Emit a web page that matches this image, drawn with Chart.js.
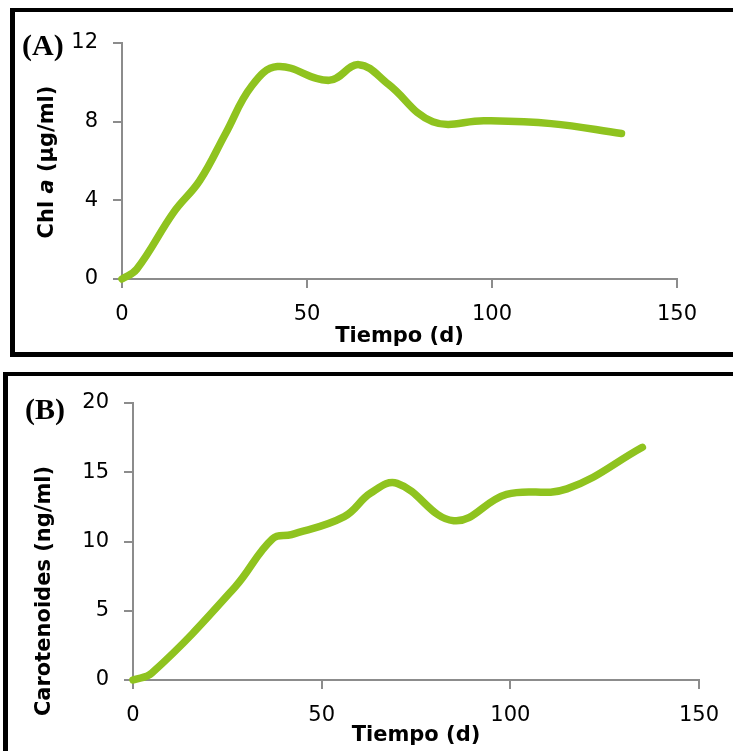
<!DOCTYPE html>
<html lang="es">
<head>
<meta charset="utf-8">
<script src="https://cdn.jsdelivr.net/npm/chart.js"></script>
<style>
  html, body { margin: 0; padding: 0; background: #fff; }
  body { width: 733px; height: 751px; position: relative; overflow: hidden; }
  .panel { position: absolute; border: solid #000; box-sizing: border-box; }
  #boxA { left: 10px; top: 8px; width: 760px; height: 349px; border-width: 4px 4px 5px 5px; }
  #boxB { left: 3px; top: 372px; width: 780px; height: 420px; border-width: 4px 4px 4px 5px; }
  canvas { position: absolute; left: 0; }
  #chartA { top: 0; }
  #chartB { top: 365px; }
</style>
</head>
<body>
<div class="panel" id="boxA"></div>
<div class="panel" id="boxB"></div>
<canvas id="chartA" width="733" height="360"></canvas>
<canvas id="chartB" width="733" height="386"></canvas>
<script>
// Chl a (ug/ml) over time (days)
const chlDays   = [0, 4, 14, 21, 28, 35, 42, 56, 64, 72, 84, 98, 116, 135];
const chlValues = [0, 0.5, 3.4, 5.0, 7.4, 9.8, 10.8, 10.1, 10.9, 9.9, 8.0, 8.05, 7.9, 7.4];

// carotenoids (ng/ml) over time (days)
const caroDays   = [0, 5, 27, 37, 42, 56, 63, 70, 85, 99, 115, 135];
const caroValues = [0, 0.5, 6.7, 10.2, 10.5, 11.8, 13.5, 14.2, 11.5, 13.4, 13.8, 16.8];

const chlTicks  = [0, 4, 8, 12];
const caroTicks = [0, 5, 10, 15, 20];
const dayTicks  = [0, 50, 100, 150];

const green = '#8fc31f';
const axisGray = '#8c8c8c';

Chart.defaults.font.family = "'DejaVu Sans', sans-serif";
Chart.defaults.color = '#000';

// panel letter + rotated y title (the "a" in Chl a is italic)
const panelText = {
  id: 'panelText',
  afterDraw(chart, args, opts) {
    const ctx = chart.ctx;
    ctx.save();
    ctx.fillStyle = '#000';
    ctx.font = 'bold 30px "Liberation Serif", serif';
    ctx.textBaseline = 'alphabetic';
    ctx.textAlign = 'left';
    ctx.fillText(opts.letter, opts.letterX, opts.letterY);

    ctx.translate(opts.titleX, opts.titleY);
    ctx.rotate(-Math.PI / 2);
    ctx.textBaseline = 'middle';
    let total = 0;
    for (const p of opts.parts) {
      ctx.font = p.font;
      total += ctx.measureText(p.text).width;
    }
    let x = -total / 2;
    for (const p of opts.parts) {
      ctx.font = p.font;
      ctx.fillText(p.text, x, 0);
      x += ctx.measureText(p.text).width;
    }
    ctx.restore();
  }
};

function makeChart(id, days, values, yMax, yStep, yTicks, yWidth, xHeight, pad, text) {
  return new Chart(document.getElementById(id), {
    type: 'line',
    data: {
      datasets: [{
        data: days.map((d, i) => ({ x: d, y: values[i] })),
        borderColor: green,
        borderWidth: 7.5,
        borderCapStyle: 'round',
        borderJoinStyle: 'round',
        pointRadius: 0,
        tension: 0.4,
        clip: false
      }]
    },
    options: {
      responsive: false,
      animation: false,
      layout: { padding: pad },
      plugins: { legend: { display: false }, tooltip: { enabled: false }, panelText: text },
      scales: {
        x: {
          type: 'linear',
          min: 0, max: 150,
          afterBuildTicks: s => { s.ticks = dayTicks.map(v => ({ value: v })); },
          afterFit: s => { s.height = xHeight; },
          grid: { drawOnChartArea: false, drawTicks: true, tickLength: 9, color: axisGray, lineWidth: 2 },
          border: { display: true, color: axisGray, width: 2 },
          ticks: { font: { size: 21 }, padding: 14, maxRotation: 0 },
          title: { display: true, text: 'Tiempo (d)', font: { size: 21, weight: 'bold' }, padding: 0 }
        },
        y: {
          type: 'linear',
          min: 0, max: yMax,
          afterBuildTicks: s => { s.ticks = yTicks.map(v => ({ value: v })); },
          afterFit: s => { s.width = yWidth; },
          grid: { drawOnChartArea: false, drawTicks: true, tickLength: 9, color: axisGray, lineWidth: 2 },
          border: { display: true, color: axisGray, width: 2 },
          ticks: { font: { size: 21 }, padding: 15, stepSize: yStep }
        }
      }
    },
    plugins: [panelText]
  });
}

makeChart('chartA', chlDays, chlValues, 12, 4, chlTicks, 122, 70,
  { top: 43, right: 56, bottom: 11, left: 0 },
  {
    letter: '(A)', letterX: 22, letterY: 55, titleX: 48, titleY: 162,
    parts: [
      { text: 'Chl ', font: 'bold 21px "DejaVu Sans"' },
      { text: 'a', font: 'italic bold 21px "DejaVu Sans"' },
      { text: ' (\u00b5g/ml)', font: 'bold 21px "DejaVu Sans"' }
    ]
  });

makeChart('chartB', caroDays, caroValues, 20, 5, caroTicks, 133, 68,
  { top: 38, right: 34, bottom: 3, left: 0 },
  {
    letter: '(B)', letterX: 25, letterY: 54, titleX: 45, titleY: 226,
    parts: [{ text: 'Carotenoides (ng/ml)', font: 'bold 21px "DejaVu Sans"' }]
  });
</script>
</body>
</html>
